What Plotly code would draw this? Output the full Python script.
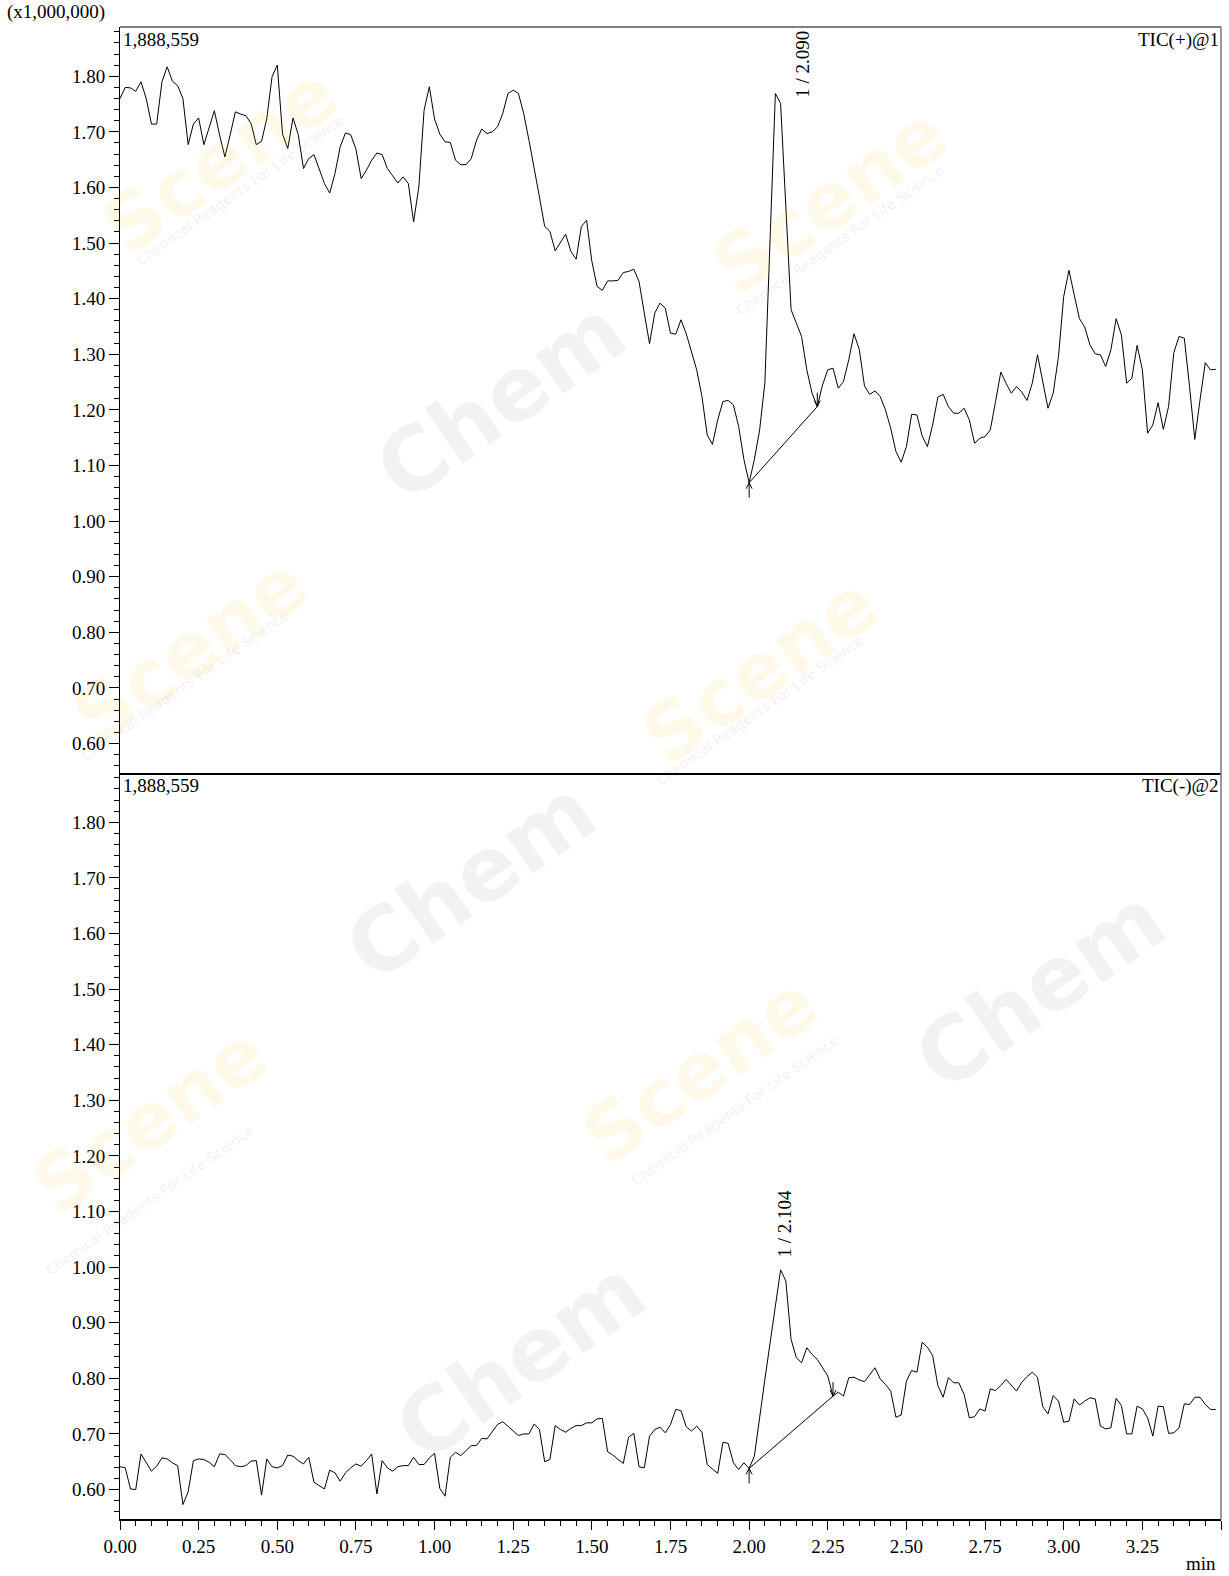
import numpy as np
import plotly.graph_objects as go
from plotly.subplots import make_subplots

# scan interval 1 s, times in min
scan_step = 1 / 60

# TIC(+)@1, x1,000,000 counts
tic_pos = [
    1.760, 1.780, 1.779, 1.773, 1.790, 1.760, 1.714, 1.714, 1.790, 1.817,
    1.791, 1.783, 1.760, 1.677, 1.714, 1.725, 1.677, 1.707, 1.738, 1.694,
    1.655, 1.694, 1.736, 1.732, 1.729, 1.715, 1.677, 1.683, 1.724, 1.799,
    1.820, 1.696, 1.670, 1.725, 1.695, 1.634, 1.652, 1.659, 1.634, 1.607,
    1.590, 1.625, 1.673, 1.698, 1.695, 1.669, 1.616, 1.631, 1.649, 1.662,
    1.659, 1.634, 1.621, 1.608, 1.619, 1.607, 1.538, 1.601, 1.739, 1.781,
    1.723, 1.696, 1.682, 1.681, 1.649, 1.641, 1.641, 1.652, 1.685, 1.705,
    1.697, 1.700, 1.709, 1.733, 1.769, 1.775, 1.769, 1.733, 1.685, 1.637,
    1.583, 1.530, 1.521, 1.486, 1.501, 1.516, 1.485, 1.471, 1.530, 1.541,
    1.467, 1.422, 1.415, 1.432, 1.432, 1.433, 1.447, 1.449, 1.453, 1.431,
    1.374, 1.319, 1.374, 1.392, 1.383, 1.338, 1.336, 1.362, 1.337, 1.302,
    1.272, 1.224, 1.155, 1.138, 1.182, 1.215, 1.217, 1.209, 1.170, 1.111,
    1.069, 1.111, 1.164, 1.248, 1.494, 1.769, 1.751, 1.577, 1.380, 1.356,
    1.332, 1.272, 1.230, 1.206, 1.245, 1.272, 1.275, 1.239, 1.251, 1.290,
    1.337, 1.309, 1.243, 1.228, 1.234, 1.224, 1.200, 1.167, 1.125, 1.106,
    1.134, 1.192, 1.191, 1.153, 1.134, 1.173, 1.223, 1.228, 1.206, 1.194,
    1.194, 1.203, 1.182, 1.140, 1.149, 1.152, 1.164, 1.215, 1.268, 1.248,
    1.230, 1.242, 1.232, 1.217, 1.248, 1.299, 1.251, 1.203, 1.230, 1.296,
    1.404, 1.451, 1.407, 1.364, 1.349, 1.317, 1.301, 1.299, 1.278, 1.308,
    1.364, 1.335, 1.248, 1.257, 1.316, 1.272, 1.158, 1.173, 1.213, 1.165,
    1.206, 1.303, 1.332, 1.329, 1.242, 1.147, 1.218, 1.285, 1.272, 1.273,
]

# TIC(-)@2
tic_neg = [
    0.641, 0.639, 0.601, 0.600, 0.664, 0.648, 0.633, 0.642, 0.657, 0.655,
    0.648, 0.643, 0.573, 0.596, 0.652, 0.655, 0.654, 0.649, 0.641, 0.664,
    0.663, 0.654, 0.643, 0.641, 0.643, 0.651, 0.652, 0.590, 0.655, 0.641,
    0.639, 0.643, 0.662, 0.660, 0.652, 0.646, 0.658, 0.613, 0.607, 0.601,
    0.635, 0.630, 0.615, 0.630, 0.639, 0.646, 0.642, 0.652, 0.664, 0.592,
    0.652, 0.639, 0.633, 0.641, 0.643, 0.643, 0.658, 0.645, 0.645, 0.657,
    0.665, 0.602, 0.588, 0.658, 0.667, 0.661, 0.670, 0.679, 0.679, 0.692,
    0.691, 0.705, 0.717, 0.722, 0.714, 0.705, 0.697, 0.700, 0.700, 0.718,
    0.708, 0.650, 0.654, 0.715, 0.708, 0.703, 0.710, 0.715, 0.715, 0.720,
    0.720, 0.727, 0.728, 0.668, 0.662, 0.654, 0.647, 0.694, 0.701, 0.641,
    0.639, 0.696, 0.708, 0.712, 0.702, 0.717, 0.744, 0.742, 0.713, 0.705,
    0.714, 0.703, 0.645, 0.637, 0.629, 0.685, 0.683, 0.648, 0.636, 0.648,
    0.638, 0.660, 0.732, 0.798, 0.864, 0.930, 0.995, 0.975, 0.870, 0.837,
    0.828, 0.855, 0.843, 0.834, 0.819, 0.804, 0.768, 0.775, 0.768, 0.801,
    0.802, 0.797, 0.794, 0.807, 0.819, 0.799, 0.789, 0.777, 0.730, 0.734,
    0.795, 0.814, 0.811, 0.865, 0.856, 0.841, 0.787, 0.766, 0.801, 0.792,
    0.792, 0.771, 0.729, 0.731, 0.745, 0.741, 0.781, 0.778, 0.787, 0.798,
    0.787, 0.777, 0.793, 0.803, 0.811, 0.802, 0.749, 0.736, 0.769, 0.759,
    0.721, 0.723, 0.763, 0.752, 0.759, 0.765, 0.763, 0.714, 0.709, 0.711,
    0.764, 0.751, 0.700, 0.700, 0.750, 0.745, 0.729, 0.696, 0.750, 0.749,
    0.701, 0.702, 0.711, 0.754, 0.753, 0.766, 0.766, 0.753, 0.744, 0.744,
]

channel_names = ["TIC(+)@1", "TIC(-)@2"]
intensity_max = 1.888559          # x1,000,000
peak_rt = [2.090, 2.104]
peak_start = [2.000, 2.000]
peak_end = [2.217, 2.267]

t = np.arange(len(tic_pos)) * scan_step
traces = [tic_pos, tic_neg]

W, H = 1229, 1576
ML, MR, MT, MB = 120, 8, 27, 57
FONT = "Liberation Serif, Times New Roman, serif"
axis_font = dict(family=FONT, size=19, color="black")


def px2paper(px, py):
    return (px - ML) / (W - ML - MR), (H - MB - py) / (H - MT - MB)


fig = make_subplots(rows=2, cols=1, shared_xaxes=True, vertical_spacing=0)

# faint vendor watermark
wm_chem = [(500, 400), (470, 880), (520, 1360), (1040, 990)]
wm_scene = [(220, 160), (830, 200), (190, 650), (760, 670), (150, 1120), (700, 1070)]
wm_sub = [(240, 190), (840, 240), (185, 685), (760, 710), (150, 1200), (735, 1110)]
for px, py in wm_chem:
    x, y = px2paper(px, py)
    fig.add_annotation(text="<b>Chem</b>", xref="paper", yref="paper", x=x, y=y,
                       xanchor="center", yanchor="middle", showarrow=False, textangle=-35,
                       font=dict(family="DejaVu Sans", size=88, color="rgba(0,0,0,0.05)"))
for px, py in wm_scene:
    x, y = px2paper(px, py)
    fig.add_annotation(text="<b>Scene</b>", xref="paper", yref="paper", x=x, y=y,
                       xanchor="center", yanchor="middle", showarrow=False, textangle=-35,
                       font=dict(family="DejaVu Sans", size=78, color="rgba(255,185,20,0.09)"))
for px, py in wm_sub:
    x, y = px2paper(px, py)
    fig.add_annotation(text="Chemical Reagents For Life Science", xref="paper", yref="paper",
                       x=x, y=y, xanchor="center", yanchor="middle", showarrow=False,
                       textangle=-35,
                       font=dict(family="DejaVu Sans", size=14, color="rgba(0,0,0,0.08)"))

for i, y in enumerate(traces):
    row = i + 1
    xr = "x" if row == 1 else "x2"
    yr = "y" if row == 1 else "y2"
    fig.add_trace(go.Scatter(x=t, y=y, mode="lines",
                             line=dict(color="black", width=1),
                             showlegend=False, hoverinfo="x+y"),
                  row=row, col=1)

    # integration baseline + start/end arrows
    i0 = int(round(peak_start[i] / scan_step))
    i1 = int(round(peak_end[i] / scan_step))
    fig.add_shape(type="line", xref=xr, yref=yr,
                  x0=t[i0], y0=y[i0], x1=t[i1], y1=y[i1],
                  line=dict(color="black", width=1))
    fig.add_shape(type="path", xref=xr, yref=yr, xsizemode="pixel", ysizemode="pixel",
                  xanchor=t[i0], yanchor=y[i0],
                  path="M0,0 L0,-15 M-3,-6 L0,0 L3,-6",
                  line=dict(color="black", width=1))
    fig.add_shape(type="path", xref=xr, yref=yr, xsizemode="pixel", ysizemode="pixel",
                  xanchor=t[i1], yanchor=y[i1],
                  path="M0,0 L0,14 M-3,6 L0,0 L3,6",
                  line=dict(color="black", width=1))

    # intensity max + channel name
    fig.add_annotation(text=f"{intensity_max * 1e6:,.0f}", xref=f"{xr} domain", yref=f"{yr} domain",
                       x=0, y=1, xanchor="left", yanchor="top", showarrow=False, xshift=1,
                       font=axis_font)
    fig.add_annotation(text=channel_names[i], xref=f"{xr} domain", yref=f"{yr} domain",
                       x=1, y=1, xanchor="right", yanchor="top", showarrow=False,
                       font=axis_font)

    # peak label
    lo, hi = i0, i1 + 1
    ipk = lo + int(np.argmax(y[lo:hi]))
    if row == 1:
        fig.add_annotation(text=f"1 / {peak_rt[i]:.3f}", xref=xr, yref=f"{yr} domain",
                           x=t[ipk], y=1, xanchor="center", yanchor="top", yshift=-2,
                           xshift=27, textangle=-90, showarrow=False, font=axis_font)
    else:
        fig.add_annotation(text=f"1 / {peak_rt[i]:.3f}", xref=xr, yref=yr,
                           x=t[ipk], y=y[ipk], xanchor="center", yanchor="bottom", yshift=10,
                           xshift=4, textangle=-90, showarrow=False, font=axis_font)

fig.update_yaxes(range=[0.547, intensity_max], tick0=0.6, dtick=0.1, tickformat=".2f",
                 ticks="outside", ticklen=10, tickcolor="black", tickwidth=1,
                 minor=dict(dtick=0.02, ticks="outside", ticklen=5, tickcolor="black"),
                 showline=True, linecolor="black", linewidth=1, showgrid=False,
                 zeroline=False, tickfont=axis_font)
fig.update_xaxes(range=[0, 3.50], showgrid=False, zeroline=False,
                 showline=True, linecolor="black", linewidth=1.5)
fig.update_xaxes(showticklabels=False, ticks="", row=1, col=1)
fig.update_xaxes(tick0=0, dtick=0.25, tickformat=".2f", ticks="outside", ticklen=9,
                 tickcolor="black", minor=dict(dtick=0.05, ticks="outside", ticklen=5,
                                               tickcolor="black"),
                 tickfont=axis_font, row=2, col=1)

# frame: top and right border
fig.add_shape(type="line", xref="paper", yref="paper", x0=0, x1=1, y0=1, y1=1,
              line=dict(color="#555555", width=1.5))
fig.add_shape(type="line", xref="paper", yref="paper", x0=1, x1=1, y0=0, y1=1,
              line=dict(color="#777777", width=1.5))

ux, uy = px2paper(5, 12)
fig.add_annotation(text="(x1,000,000)", xref="paper", yref="paper", x=ux, y=uy,
                   xanchor="left", yanchor="middle", showarrow=False, font=axis_font)
mx, my = px2paper(1218, 1563)
fig.add_annotation(text="min", xref="paper", yref="paper", x=mx, y=my,
                   xanchor="right", yanchor="middle", showarrow=False, font=axis_font)

fig.update_layout(width=W, height=H,
                  margin=dict(l=ML, r=MR, t=MT, b=MB),
                  plot_bgcolor="white", paper_bgcolor="white",
                  font=axis_font, showlegend=False)

fig.write_html("out.html", config={"displayModeBar": False},
               post_script="document.body.style.margin='0px';")
